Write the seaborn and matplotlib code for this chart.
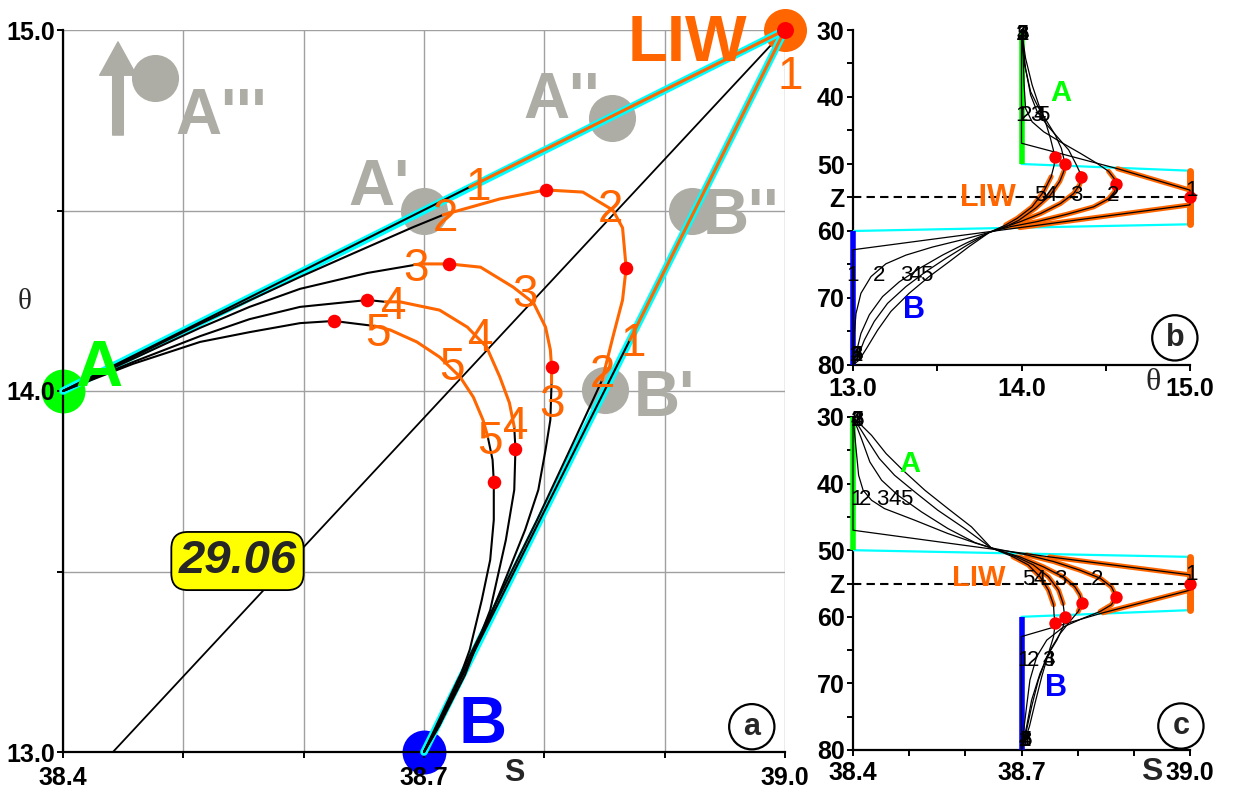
import numpy as np
import matplotlib
matplotlib.use('Agg')
import matplotlib.pyplot as plt
import seaborn as sns

sns.set_theme(style='white')
plt.rcParams['font.family'] = ['Liberation Sans', 'DejaVu Sans']

# ---------------- colours ----------------
ORANGE = '#FF6600'
CYAN = '#00FFFF'
GREEN = '#00FF00'
BLUE = '#0000FF'
RED = '#FF0000'
GRAY = '#ADADA6'
GRIDC = '#A0A0A0'

# ---------------- end-members ----------------
A_S, A_T = 38.4, 14.0
B_S, B_T = 38.7, 13.0
LIW_S, LIW_T = 39.0, 15.0
A_DEPTH = [30, 50]
B_DEPTH = [60, 80]
LIW_DEPTH = [51, 59]
Z_DEPTH = 55
LIW_TOP, LIW_BOT = 50.6, 59.5
ISO_S = [38.4415, 39.0]
ISO_T = [13.0, 15.0]
ISO_LABEL = '29.06'

# ghost positions (panel a)
GHOST_S = [38.4765, 38.700, 38.856, 38.923, 38.850]
GHOST_T = [14.867, 14.500, 14.756, 14.500, 14.003]
GHOST_TXT = ["A'''", "A'", "A''", "B''", "B'"]
GHOST_TXT_S = [38.493, 38.688, 38.846, 38.932, 38.874]
GHOST_TXT_T = [14.778, 14.579, 14.820, 14.500, 13.997]
GHOST_TXT_HA = ['left', 'right', 'right', 'left', 'left']
ARROW_S = 38.4457
ARROW_T = [14.709, 14.967]

# ---------------- panel a: T-S curves (upper black / orange / lower black) ----------------
C1_UP_S = [38.4, 38.738]
C1_UP_T = [14.0, 14.565]
C1_OR_S = [38.738, 39.0, 38.871]
C1_OR_T = [14.565, 15.0, 14.141]
C1_LO_S = [38.871, 38.7]
C1_LO_T = [14.141, 13.0]

C2_UP_S = [38.4, 38.458, 38.514, 38.555, 38.597, 38.639, 38.691, 38.716]
C2_UP_T = [14.0, 14.094, 14.186, 14.251, 14.316, 14.378, 14.454, 14.488]
C2_OR_S = [38.716, 38.763, 38.801, 38.832, 38.857, 38.865, 38.868, 38.865, 38.857, 38.848]
C2_OR_T = [14.488, 14.532, 14.557, 14.551, 14.501, 14.452, 14.341, 14.252, 14.150, 14.030]
C2_LO_S = [38.848, 38.825, 38.794, 38.761, 38.728, 38.7]
C2_LO_T = [14.030, 13.864, 13.643, 13.421, 13.199, 13.0]

C3_UP_S = [38.4, 38.458, 38.514, 38.555, 38.597, 38.653, 38.697]
C3_UP_T = [14.0, 14.089, 14.175, 14.233, 14.283, 14.327, 14.352]
C3_OR_S = [38.697, 38.721, 38.747, 38.774, 38.791, 38.801, 38.805, 38.806, 38.806]
C3_OR_T = [14.352, 14.352, 14.343, 14.288, 14.244, 14.177, 14.114, 14.066, 14.022]
C3_LO_S = [38.806, 38.805, 38.801, 38.795, 38.784, 38.769, 38.752, 38.732, 38.716, 38.7]
C3_LO_T = [14.022, 13.920, 13.837, 13.726, 13.615, 13.490, 13.352, 13.213, 13.102, 13.0]

C4_UP_S = [38.4, 38.458, 38.514, 38.555, 38.597, 38.653, 38.668]
C4_UP_T = [14.0, 14.080, 14.152, 14.199, 14.233, 14.252, 14.247]
C4_OR_S = [38.668, 38.680, 38.713, 38.736, 38.752, 38.763, 38.771, 38.775]
C4_OR_T = [14.247, 14.247, 14.224, 14.177, 14.122, 14.039, 13.967, 13.900]
C4_LO_S = [38.775, 38.776, 38.775, 38.768, 38.755, 38.734, 38.713, 38.7]
C4_LO_T = [13.900, 13.839, 13.726, 13.587, 13.393, 13.213, 13.075, 13.0]

C5_UP_S = [38.4, 38.458, 38.514, 38.555, 38.597, 38.625, 38.659]
C5_UP_T = [14.0, 14.075, 14.136, 14.163, 14.188, 14.194, 14.180]
C5_OR_S = [38.659, 38.672, 38.694, 38.713, 38.730, 38.741, 38.749, 38.753]
C5_OR_T = [14.180, 14.169, 14.136, 14.094, 14.039, 13.983, 13.920, 13.873]
C5_LO_S = [38.753, 38.757, 38.758, 38.758, 38.755, 38.748, 38.738, 38.726, 38.713, 38.7]
C5_LO_T = [13.873, 13.809, 13.748, 13.643, 13.532, 13.421, 13.283, 13.172, 13.075, 13.0]

TMAX_S = [39.0, 38.801, 38.721, 38.653, 38.625]
TMAX_T = [15.0, 14.557, 14.352, 14.252, 14.194]
SMAX_S = [38.868, 38.806, 38.776, 38.758]
SMAX_T = [14.341, 14.066, 13.839, 13.748]

LBL_A_TXT = ['1', '1', '1', '2', '2', '2', '3', '3', '3', '4', '4', '4', '5', '5', '5']
LBL_A_S = [38.745, 38.874, 39.004, 38.718, 38.855, 38.848, 38.693, 38.784, 38.806,
           38.675, 38.747, 38.776, 38.662, 38.723, 38.755]
LBL_A_T = [14.576, 14.144, 14.884, 14.490, 14.515, 14.058, 14.352, 14.280, 13.975,
           14.247, 14.158, 13.914, 14.172, 14.078, 13.873]

# ---------------- panel b: theta profiles ----------------
PB1_T = [14.0, 14.0, 14.57, 15.0, 15.0, 15.0, 13.99, 13.0, 13.0]
PB1_D = [30, 46.9, 50.7, 53.9, 55.0, 56.1, 59.5, 62.8, 80]
PB2_T = [14.0, 14.010, 14.015, 14.024, 14.063, 14.132, 14.231, 14.349, 14.448, 14.517, 14.557, 14.562,
         14.553, 14.517, 14.428, 14.270, 14.093, 13.935, 13.81, 13.649, 13.471, 13.314, 13.195, 13.107,
         13.047, 13.018, 13.006, 13.0]
PB2_D = [30, 34.2, 38.0, 41.7, 43.7, 45.2, 46.7, 48.4, 49.9, 51.1, 52.4, 53.0,
         54.1, 55.2, 56.4, 57.5, 58.6, 59.35, 60.2, 61.3, 62.4, 63.6, 64.9, 66.8,
         69.3, 72.3, 75.8, 80]
PB3_T = [14.0, 14.024, 14.054, 14.093, 14.152, 14.221, 14.280, 14.326, 14.349, 14.355, 14.345, 14.310,
         14.231, 14.113, 13.994, 13.906, 13.81, 13.669, 13.531, 13.393, 13.274, 13.175, 13.097, 13.047,
         13.018, 13.0]
PB3_D = [30, 35.7, 39.7, 42.2, 44.2, 46.2, 47.9, 50.15, 51.4, 52.0, 53.1, 54.4,
         55.9, 57.4, 58.6, 59.35, 60.2, 61.84, 63.6, 65.6, 67.6, 69.8, 72.5, 75.3,
         78.3, 80]
PB4_T = [14.0, 14.018, 14.054, 14.103, 14.152, 14.201, 14.237, 14.251, 14.256, 14.251, 14.227, 14.172,
         14.083, 13.984, 13.906, 13.81, 13.678, 13.550, 13.432, 13.314, 13.205, 13.126, 13.067, 13.028, 13.0]
PB4_D = [30, 35.2, 39.2, 41.7, 43.7, 45.7, 47.7, 49.2, 50.05, 51.1, 52.6, 54.6,
         56.6, 58.4, 59.35, 60.2, 62.1, 64.1, 66.07, 68.3, 70.8, 73.5, 76.3, 78.8, 80]
PB5_T = [14.0, 14.024, 14.063, 14.103, 14.142, 14.172, 14.192, 14.197, 14.194, 14.176, 14.132, 14.063,
         13.975, 13.906, 13.81, 13.688, 13.570, 13.452, 13.333, 13.225, 13.146, 13.081, 13.037, 13.0]
PB5_D = [30, 34.2, 38.2, 41.2, 43.7, 46.2, 48.2, 49.0, 50.15, 51.9, 54.1, 56.4,
         58.1, 59.1, 60.2, 62.34, 64.6, 66.8, 69.3, 72.0, 74.8, 77.5, 79.25, 80]
PB_MAX_T = [15.0, 14.562, 14.355, 14.256, 14.197]
PB_MAX_D = [55.0, 53.0, 52.0, 50.05, 49.0]

LBL_B_TXT = ['1', '2', '3', '4', '5', '1', '2', '3', '4', '5', '5', '4', '3', '2', '1',
             '1', '2', '3', '4', '5', '1', '2', '3', '4', '5']
LBL_B_T = [14.006] * 5 + [14.0, 14.030, 14.089, 14.107, 14.130] + \
          [14.112, 14.172, 14.325, 14.544, 15.01] + \
          [13.0, 13.154, 13.314, 13.373, 13.432] + [13.02] * 5
LBL_B_D = [30.3] * 5 + [42.4] * 5 + [54.3, 54.3, 54.3, 54.3, 53.6] + [66.3] * 5 + [78.2] * 5

# ---------------- panel c: salinity profiles ----------------
PC1_S = [38.4, 38.4, 38.75, 39.0, 39.0, 39.0, 38.845, 38.7, 38.7]
PC1_D = [30, 47.0, 51.0, 53.7, 55.0, 56.0, 59.4, 62.97, 80]
PC2_S = [38.4, 38.406, 38.410, 38.418, 38.433, 38.456, 38.510, 38.569, 38.617, 38.646, 38.709, 38.757,
         38.804, 38.840, 38.860, 38.869, 38.860, 38.840, 38.810, 38.775, 38.745, 38.727, 38.715, 38.709,
         38.704, 38.7]
PC2_D = [30, 35.25, 38.75, 41.0, 42.5, 43.75, 45.5, 47.5, 48.9, 49.65, 50.7, 51.7,
         53.0, 54.2, 55.5, 57.0, 58.2, 59.2, 60.2, 61.5, 63.5, 66.0, 69.5, 73.5,
         77.0, 80]
PC3_S = [38.4, 38.415, 38.430, 38.451, 38.480, 38.522, 38.569, 38.617, 38.646, 38.697, 38.739, 38.774,
         38.795, 38.804, 38.808, 38.801, 38.786, 38.769, 38.751, 38.733, 38.718, 38.709, 38.7]
PC3_D = [30, 33.25, 36.75, 39.5, 41.75, 44.25, 46.75, 48.85, 49.65, 51.0, 52.5, 54.0,
         55.5, 56.7, 57.9, 59.2, 60.7, 62.5, 65.0, 68.5, 72.5, 76.5, 80]
PC4_S = [38.4, 38.424, 38.447, 38.474, 38.510, 38.551, 38.599, 38.646, 38.691, 38.721, 38.748, 38.766,
         38.774, 38.777, 38.774, 38.763, 38.745, 38.730, 38.718, 38.709, 38.7]
PC4_D = [30, 33.25, 36.25, 38.75, 41.25, 44.0, 46.75, 49.65, 51.0, 52.2, 54.0, 56.0,
         58.0, 60.0, 61.5, 63.5, 66.0, 69.5, 73.5, 77.0, 80]
PC5_S = [38.4, 38.433, 38.459, 38.489, 38.528, 38.569, 38.611, 38.646, 38.685, 38.712, 38.733, 38.748,
         38.757, 38.758, 38.760, 38.757, 38.748, 38.736, 38.724, 38.714, 38.7]
PC5_D = [30, 32.75, 35.5, 38.0, 41.0, 43.75, 46.5, 49.65, 51.0, 52.2, 54.0, 56.0,
         58.2, 59.7, 61.0, 63.0, 65.5, 69.0, 73.0, 76.5, 80]
PC_MAX_S = [39.0, 38.869, 38.808, 38.777, 38.760]
PC_MAX_D = [55.0, 57.0, 57.9, 60.0, 61.0]

LBL_C_TXT = ['1', '2', '3', '4', '5', '1', '2', '3', '4', '5', '5', '4', '3', '2', '1',
             '1', '2', '3', '4', '1', '2', '3', '4', '5']
LBL_C_S = [38.407] * 5 + [38.406, 38.421, 38.453, 38.474, 38.495] + \
          [38.712, 38.732, 38.769, 38.834, 39.002] + \
          [38.703, 38.721, 38.747, 38.749] + [38.706] * 5
LBL_C_D = [30.2] * 5 + [42.0] * 5 + [54.0, 54.0, 54.0, 54.0, 53.2] + [66.2] * 4 + [78.2] * 5

# ticks
S_TICKS = [38.4, 38.5, 38.6, 38.7, 38.8, 38.9, 39.0]
S_TICK_LBL = ['38.4', '', '', '38.7', '', '', '39.0']
T_TICKS = [13.0, 13.5, 14.0, 14.5, 15.0]
T_TICK_LBL = ['13.0', '', '14.0', '', '15.0']
D_TICKS = [30, 35, 40, 45, 50, 55, 60, 65, 70, 75, 80]
D_TICK_LBL = ['30', '', '40', '', '50', 'Z', '60', '', '70', '', '80']


def draw_line(ax, xs, ys, color, lw, z, **kw):
    sns.lineplot(x=np.asarray(xs, float), y=np.asarray(ys, float), sort=False,
                 estimator=None, color=color, linewidth=lw, ax=ax, zorder=z, **kw)


def draw_dots(ax, xs, ys, color, s, z, **kw):
    sns.scatterplot(x=np.asarray(xs, float), y=np.asarray(ys, float), color=color, s=s,
                    linewidth=0, ax=ax, zorder=z, legend=False, **kw)


def style_axes(ax, xticks, xlbl, yticks, ylbl, xpad=5):
    ax.set_xticks(xticks)
    ax.set_xticklabels(xlbl)
    ax.set_yticks(yticks)
    ax.set_yticklabels(ylbl)
    for sp in ['top', 'right']:
        ax.spines[sp].set_visible(False)
    for sp in ['left', 'bottom']:
        ax.spines[sp].set_color('black')
        ax.spines[sp].set_linewidth(1.6)
    ax.tick_params(axis='both', which='major', bottom=True, left=True, direction='out',
                   length=4, width=1.4, color='black', labelsize=18, labelcolor='black')
    ax.tick_params(axis='x', pad=xpad)
    ax.tick_params(axis='y', pad=2)
    for t in ax.get_xticklabels() + ax.get_yticklabels():
        t.set_fontweight('bold')
    ax.set_xlabel('')
    ax.set_ylabel('')
    ax.set_axisbelow(False)


fig = plt.figure(figsize=(12.34, 7.96), dpi=100)
fig.patch.set_facecolor('white')
ax_a = fig.add_axes([63 / 1234, 44 / 796, 722 / 1234, 722 / 796])
ax_b = fig.add_axes([853 / 1234, 431 / 796, 337 / 1234, 335 / 796])
ax_c = fig.add_axes([853 / 1234, 46 / 796, 337 / 1234, 333 / 796])
for ax in (ax_a, ax_b, ax_c):
    ax.set_facecolor('white')

# ======================= panel a =======================
ax = ax_a
for s in S_TICKS:
    ax.axvline(s, color=GRIDC, lw=1.0, zorder=0.5)
for t in T_TICKS:
    ax.axhline(t, color=GRIDC, lw=1.0, zorder=0.5)

# ghost markers
draw_dots(ax, GHOST_S, GHOST_T, GRAY, 1150, 1, clip_on=False)
for txt, s, t, ha in zip(GHOST_TXT, GHOST_TXT_S, GHOST_TXT_T, GHOST_TXT_HA):
    ax.text(s, t, txt, color=GRAY, fontsize=46, fontweight='bold', ha=ha,
            va='center_baseline', zorder=1)
ax.annotate('', xy=(ARROW_S, ARROW_T[1]), xytext=(ARROW_S, ARROW_T[0]),
            arrowprops=dict(arrowstyle='simple,head_length=0.5,head_width=0.55,tail_width=0.16',
                            mutation_scale=48, color=GRAY, shrinkA=0, shrinkB=0), zorder=1)

# isopycnal
draw_line(ax, ISO_S, ISO_T, 'black', 1.3, 2)
ax.text(38.545, 13.529, ISO_LABEL, fontsize=34, fontweight='bold', fontstyle='italic',
        ha='center', va='center', zorder=8,
        bbox=dict(boxstyle='round,pad=0.15,rounding_size=0.35', fc='#FFFF00', ec='black', lw=1.3))

# end-member circles
draw_dots(ax, [A_S], [A_T], GREEN, 1000, 2, clip_on=False)
draw_dots(ax, [B_S], [B_T], BLUE, 1000, 2, clip_on=False)
draw_dots(ax, [LIW_S], [LIW_T], ORANGE, 960, 2, clip_on=False)

# mixing lines
draw_line(ax, [A_S, LIW_S], [A_T, LIW_T], CYAN, 5.5, 3, solid_capstyle='round', clip_on=False)
draw_line(ax, [B_S, LIW_S], [B_T, LIW_T], CYAN, 5.5, 3, solid_capstyle='round', clip_on=False)

curves_a = [
    (C1_UP_S, C1_UP_T, C1_OR_S, C1_OR_T, C1_LO_S, C1_LO_T),
    (C2_UP_S, C2_UP_T, C2_OR_S, C2_OR_T, C2_LO_S, C2_LO_T),
    (C3_UP_S, C3_UP_T, C3_OR_S, C3_OR_T, C3_LO_S, C3_LO_T),
    (C4_UP_S, C4_UP_T, C4_OR_S, C4_OR_T, C4_LO_S, C4_LO_T),
    (C5_UP_S, C5_UP_T, C5_OR_S, C5_OR_T, C5_LO_S, C5_LO_T),
]
for us, ut, os_, ot, ls, lt in curves_a:
    draw_line(ax, us, ut, 'black', 1.5, 4, clip_on=False)
    draw_line(ax, ls, lt, 'black', 1.5, 4, clip_on=False)
    draw_line(ax, os_, ot, ORANGE, 2.2, 5, clip_on=False)

draw_dots(ax, TMAX_S[1:], TMAX_T[1:], RED, 95, 6)
draw_dots(ax, SMAX_S, SMAX_T, RED, 95, 6)
draw_dots(ax, TMAX_S[:1], TMAX_T[:1], RED, 150, 6, clip_on=False)

for txt, s, t in zip(LBL_A_TXT, LBL_A_S, LBL_A_T):
    ax.text(s, t, txt, color=ORANGE, fontsize=33, ha='center', va='center_baseline', zorder=7)

ax.text(38.919, 14.978, 'LIW', color=ORANGE, fontsize=47, fontweight='bold',
        ha='center', va='center_baseline', zorder=7)
ax.text(38.430, 14.080, 'A', color=GREEN, fontsize=47, fontweight='bold',
        ha='center', va='center_baseline', zorder=7)
ax.text(38.749, 13.091, 'B', color=BLUE, fontsize=48, fontweight='bold',
        ha='center', va='center_baseline', zorder=7)
ax.text(0.954, 0.035, 'a', transform=ax.transAxes, fontsize=22, fontweight='bold',
        ha='center', va='center', zorder=9,
        bbox=dict(boxstyle='circle,pad=0.25', fc='white', ec='black', lw=1.6))

ax.set_xlim(38.4, 39.0)
ax.set_ylim(13.0, 15.0)
style_axes(ax, S_TICKS, S_TICK_LBL, T_TICKS, T_TICK_LBL, xpad=6)

# ======================= panel b =======================
ax = ax_b
draw_line(ax, [A_T, LIW_T], [A_DEPTH[1], LIW_DEPTH[0]], CYAN, 1.6, 3)
draw_line(ax, [B_T, LIW_T], [B_DEPTH[0], LIW_DEPTH[1]], CYAN, 1.6, 3)
draw_line(ax, [A_T, A_T], A_DEPTH, GREEN, 4, 3, solid_capstyle='butt')
draw_line(ax, [B_T, B_T], B_DEPTH, BLUE, 4, 3, solid_capstyle='butt', clip_on=False)
draw_line(ax, [LIW_T, LIW_T], LIW_DEPTH, ORANGE, 5, 3, solid_capstyle='round', clip_on=False)
ax.axhline(Z_DEPTH, color='black', lw=1.5, ls=(0, (4, 2.5)), zorder=6)

for xs, ds in [(PB1_T, PB1_D), (PB2_T, PB2_D), (PB3_T, PB3_D), (PB4_T, PB4_D), (PB5_T, PB5_D)]:
    xs = np.asarray(xs, float)
    ds = np.asarray(ds, float)
    m = (ds >= LIW_TOP) & (ds <= LIW_BOT)
    draw_line(ax, xs[m], ds[m], ORANGE, 3.6, 4, solid_capstyle='round', clip_on=False)
    draw_line(ax, xs, ds, 'black', 0.9, 5, clip_on=False)
draw_dots(ax, PB_MAX_T, PB_MAX_D, RED, 80, 7, clip_on=False)
for txt, x, d in zip(LBL_B_TXT, LBL_B_T, LBL_B_D):
    ax.text(x, d, txt, color='black', fontsize=16, ha='center', va='center_baseline', zorder=8)
ax.text(14.231, 38.96, 'A', color=GREEN, fontsize=21, fontweight='bold', ha='center',
        va='center_baseline', zorder=8)
ax.text(13.361, 71.3, 'B', color=BLUE, fontsize=22, fontweight='bold', ha='center',
        va='center_baseline', zorder=8)
ax.text(13.799, 54.6, 'LIW', color=ORANGE, fontsize=22, fontweight='bold', ha='center',
        va='center_baseline', zorder=8)
ax.text(0.955, 0.081, 'b', transform=ax.transAxes, fontsize=22, fontweight='bold',
        ha='center', va='center', zorder=9,
        bbox=dict(boxstyle='circle,pad=0.25', fc='white', ec='black', lw=1.6))
ax.set_xlim(13.0, 15.0)
ax.set_ylim(80, 30)
style_axes(ax, T_TICKS, T_TICK_LBL, D_TICKS, D_TICK_LBL, xpad=5)

# ======================= panel c =======================
ax = ax_c
draw_line(ax, [A_S, LIW_S], [A_DEPTH[1], LIW_DEPTH[0]], CYAN, 1.6, 3)
draw_line(ax, [B_S, LIW_S], [B_DEPTH[0], LIW_DEPTH[1]], CYAN, 1.6, 3)
draw_line(ax, [A_S, A_S], A_DEPTH, GREEN, 4, 3, solid_capstyle='butt', clip_on=False)
draw_line(ax, [B_S, B_S], B_DEPTH, BLUE, 4, 3, solid_capstyle='butt', clip_on=False)
draw_line(ax, [LIW_S, LIW_S], LIW_DEPTH, ORANGE, 5, 3, solid_capstyle='round', clip_on=False)
ax.axhline(Z_DEPTH, color='black', lw=1.5, ls=(0, (4, 2.5)), zorder=6)

for xs, ds in [(PC1_S, PC1_D), (PC2_S, PC2_D), (PC3_S, PC3_D), (PC4_S, PC4_D), (PC5_S, PC5_D)]:
    xs = np.asarray(xs, float)
    ds = np.asarray(ds, float)
    m = (ds >= LIW_TOP) & (ds <= LIW_BOT)
    draw_line(ax, xs[m], ds[m], ORANGE, 3.6, 4, solid_capstyle='round', clip_on=False)
    draw_line(ax, xs, ds, 'black', 0.9, 5, clip_on=False)
draw_dots(ax, PC_MAX_S, PC_MAX_D, RED, 80, 7, clip_on=False)
for txt, x, d in zip(LBL_C_TXT, LBL_C_S, LBL_C_D):
    ax.text(x, d, txt, color='black', fontsize=16, ha='center', va='center_baseline', zorder=8)
ax.text(38.501, 36.6, 'A', color=GREEN, fontsize=21, fontweight='bold', ha='center',
        va='center_baseline', zorder=8)
ax.text(38.761, 70.2, 'B', color=BLUE, fontsize=22, fontweight='bold', ha='center',
        va='center_baseline', zorder=8)
ax.text(38.624, 53.7, 'LIW', color=ORANGE, fontsize=21, fontweight='bold', ha='center',
        va='center_baseline', zorder=8)
ax.text(0.973, 0.072, 'c', transform=ax.transAxes, fontsize=22, fontweight='bold',
        ha='center', va='center', zorder=9,
        bbox=dict(boxstyle='circle,pad=0.25', fc='white', ec='black', lw=1.6))
ax.set_xlim(38.4, 39.0)
ax.set_ylim(80, 30)
style_axes(ax, S_TICKS, S_TICK_LBL, D_TICKS, D_TICK_LBL, xpad=4)

# axis titles
fig.text(25 / 1234, 1 - 302 / 796, 'θ', family=['Liberation Serif', 'DejaVu Serif'],
         fontsize=21, ha='center', va='center')
fig.text(514 / 1234, 1 - 773 / 796, 'S', fontsize=22, fontweight='bold', ha='center', va='center')
fig.text(1153 / 1234, 1 - 383 / 796, 'θ', family=['Liberation Serif', 'DejaVu Serif'],
         fontsize=23, ha='center', va='center')
fig.text(1152 / 1234, 1 - 772 / 796, 'S', fontsize=23, fontweight='bold', ha='center', va='center')

fig.savefig('out.png', dpi=100, facecolor='white')
